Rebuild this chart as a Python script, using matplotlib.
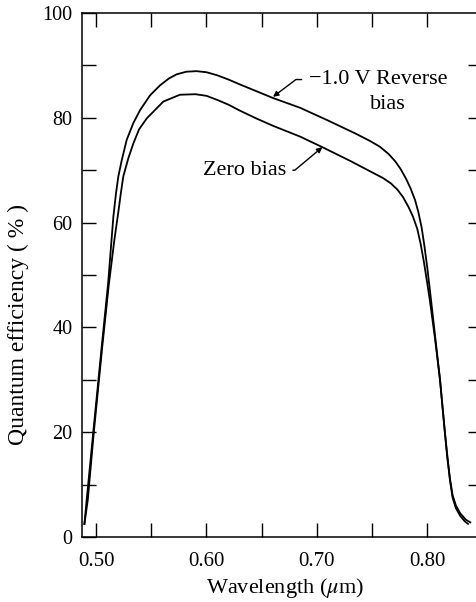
import matplotlib
matplotlib.use("Agg")
import matplotlib.pyplot as plt
from matplotlib.ticker import MultipleLocator, FixedLocator

plt.rcParams['font.family'] = ['Liberation Serif', 'DejaVu Serif']
plt.rcParams['mathtext.fontset'] = 'stix'

# Quantum efficiency vs wavelength
wl_reverse = [0.4895, 0.4915, 0.4975, 0.505, 0.511, 0.5157, 0.5181, 0.5202, 0.5233,
              0.5278, 0.5338, 0.540, 0.549, 0.558, 0.566, 0.573, 0.582, 0.591,
              0.600, 0.610, 0.620, 0.630, 0.645, 0.660, 0.685, 0.710, 0.735,
              0.748, 0.757, 0.765, 0.771, 0.776, 0.781, 0.785, 0.789, 0.792,
              0.795, 0.7975, 0.800, 0.8025, 0.806, 0.8116, 0.814, 0.816, 0.818,
              0.8207, 0.823, 0.826, 0.830, 0.835, 0.839]
qe_reverse = [2.5, 7.0, 20.0, 36.0, 48.5, 61.1, 65.6, 68.8, 71.9,
              75.8, 79.0, 81.5, 84.3, 86.2, 87.5, 88.3, 88.8, 88.9,
              88.7, 88.1, 87.3, 86.4, 85.1, 83.8, 81.9, 79.5, 77.0,
              75.6, 74.5, 73.1, 71.7, 70.2, 68.3, 66.5, 64.3, 62.0,
              59.0, 55.5, 51.5, 47.0, 40.5, 30.0, 24.5, 20.0, 15.5,
              11.0, 8.0, 6.0, 4.5, 3.3, 2.8]

wl_zero = [0.4895, 0.4925, 0.498, 0.5055, 0.5115, 0.5165, 0.5202, 0.5224, 0.5247,
           0.5293, 0.5338, 0.539, 0.546, 0.561, 0.576, 0.590, 0.600, 0.610,
           0.620, 0.630, 0.645, 0.660, 0.685, 0.705, 0.730, 0.750, 0.760,
           0.767, 0.773, 0.778, 0.783, 0.787, 0.791, 0.794, 0.797, 0.800,
           0.8025, 0.807, 0.8116, 0.816, 0.8205, 0.823, 0.826, 0.830, 0.834,
           0.837]
qe_zero = [2.5, 7.0, 20.0, 36.0, 48.0, 56.5, 62.0, 65.5, 68.8,
           72.3, 75.1, 77.8, 79.9, 83.1, 84.4, 84.5, 84.2, 83.4,
           82.5, 81.4, 79.9, 78.5, 76.4, 74.4, 71.8, 69.6, 68.5,
           67.5, 66.3, 64.9, 63.0, 61.2, 58.8, 56.0, 52.5, 48.5,
           45.0, 38.0, 30.0, 20.0, 11.0, 7.5, 5.5, 4.0, 3.0,
           2.5]

x_major = [0.50, 0.60, 0.70, 0.80]
x_minor = [0.55, 0.65, 0.75]
x_labels = ["0.50", "0.60", "0.70", "0.80"]

fig = plt.figure(figsize=(4.76, 6.02), dpi=100)
ax = fig.add_axes([82 / 476, 65 / 602, 394 / 476, 524 / 602])

ax.plot(wl_reverse, qe_reverse, color='black', lw=1.3)
ax.plot(wl_zero, qe_zero, color='black', lw=1.3)

ax.set_xlim(0.4873, 0.8442)
ax.set_ylim(0, 100)

ax.xaxis.set_major_locator(FixedLocator(x_major))
ax.xaxis.set_minor_locator(FixedLocator(x_minor))
ax.set_xticklabels(x_labels)
ax.yaxis.set_major_locator(MultipleLocator(20))
ax.yaxis.set_minor_locator(MultipleLocator(10))

ax.tick_params(axis='x', which='both', direction='in', length=10, width=1,
               top=True, bottom=True, labelsize=15, pad=11)
ax.tick_params(axis='y', which='both', direction='in', length=10, width=1,
               left=True, right=False, labelsize=14.5, pad=7)
ax.spines['right'].set_visible(False)
for s in ['left', 'top', 'bottom']:
    ax.spines[s].set_linewidth(1.1)

# short ticks on the right edge
sec = ax.secondary_yaxis('right')
sec.set_yticks([10, 20, 30, 40, 50, 60, 70, 80, 90])
sec.tick_params(direction='in', length=6, width=1, labelright=False)
sec.spines['right'].set_visible(False)

ax.set_xlabel("Wavelength ($\\mu$m)", fontsize=16)
ax.xaxis.set_label_coords(0.515, -0.097)
ax.xaxis.label.set_va('center')
ax.set_ylabel("Quantum efficiency ( % )", fontsize=17)
ax.yaxis.set_label_coords(-0.162, 0.405)
ax.yaxis.label.set_va('center')

ax.annotate("\u22121.0 V Reverse", xy=(0.6603, 84.0), xytext=(0.6925, 87.3),
            ha='left', va='center', fontsize=16,
            arrowprops=dict(arrowstyle='-|>', color='black', lw=1,
                            mutation_scale=8, shrinkA=3, shrinkB=0,
                            connectionstyle='angle,angleA=0,angleB=37,rad=0'))
ax.text(0.7645, 82.6, "bias", ha='center', va='center', fontsize=16)

ax.annotate("Zero bias", xy=(0.705, 74.4), xytext=(0.672, 70.0),
            ha='right', va='center', fontsize=16,
            arrowprops=dict(arrowstyle='-|>', color='black', lw=1,
                            mutation_scale=8, shrinkA=3, shrinkB=0,
                            connectionstyle='angle,angleA=0,angleB=40,rad=0'))

fig.savefig("out.png", dpi=100)
plt.close(fig)
